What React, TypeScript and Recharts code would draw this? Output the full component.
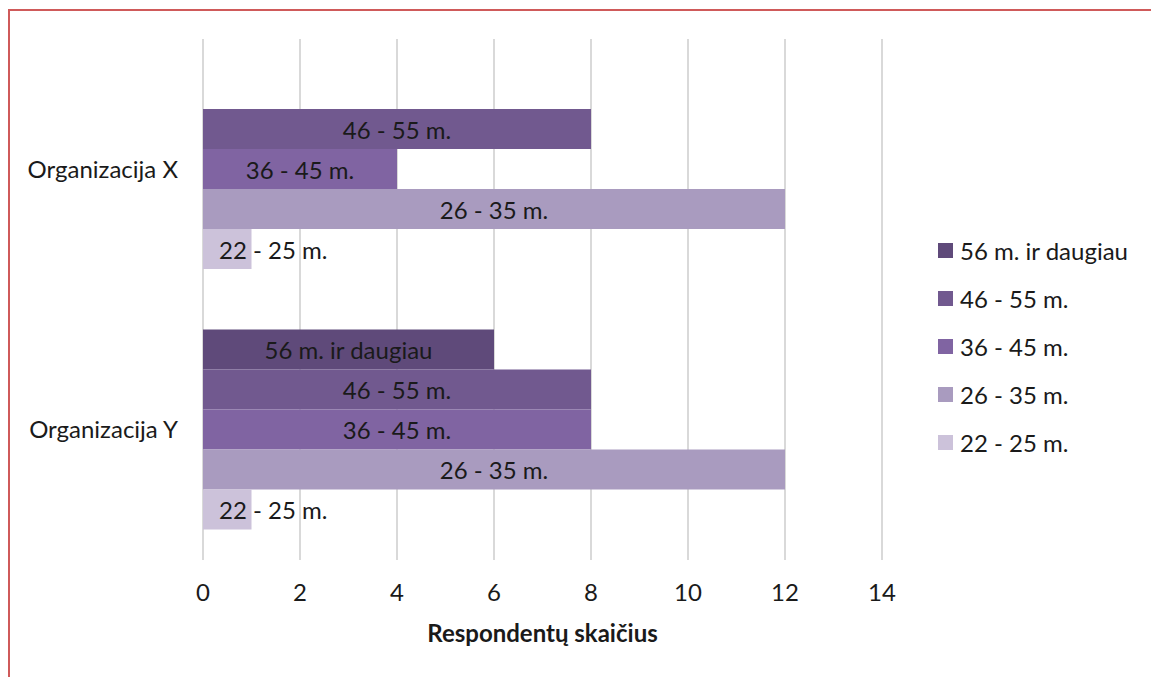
import React from 'react';
import { BarChart, Bar, XAxis, YAxis, CartesianGrid, LabelList } from 'recharts';

const categories = ['Organizacija X', 'Organizacija Y'];
const seriesNames = ['56 m. ir daugiau', '46 - 55 m.', '36 - 45 m.', '26 - 35 m.', '22 - 25 m.'];
const seriesKeys = ['s56', 's46', 's36', 's26', 's22'];
const s56 = [0, 6];
const s46 = [8, 8];
const s36 = [4, 8];
const s26 = [12, 12];
const s22 = [1, 1];
const xTicks = [0, 2, 4, 6, 8, 10, 12, 14];
const colors = ['#5f4a7a', '#71598f', '#8064a2', '#a99bbf', '#ccc2da'];

const seriesValues = [s56, s46, s36, s26, s22];
const data = categories.map((c, i) => {
  const row: any = { name: c };
  seriesKeys.forEach((k, j) => {
    row[k] = seriesValues[j][i];
  });
  return row;
});

const FONT = 'Lato, "Open Sans", sans-serif';
const FS = 24;

const makeLabel = (text: string) => (props: any) => {
  const { x, y, width, height, value } = props;
  if (!value) return null;
  const narrow = width < 120;
  return (
    <text
      x={narrow ? x + 16 : x + width / 2}
      y={y + height / 2}
      textAnchor={narrow ? 'start' : 'middle'}
      dominantBaseline="central"
      fill="#1a1a1a"
      fontSize={FS}
      fontFamily={FONT}
    >
      {text}
    </text>
  );
};

export default function App() {
  return (
    <div style={{ position: 'absolute', left: 0, top: 0, width: 1151, height: 677, background: '#fff', overflow: 'hidden', fontFamily: FONT }}>
      <div style={{ position: 'absolute', left: 8, top: 9, width: 1200, height: 720, borderTop: '2px solid #cf5a5a', borderLeft: '2px solid #cf5a5a' }} />
      <div style={{ position: 'absolute', left: 0, top: 0 }}>
        <BarChart
          width={1151}
          height={677}
          data={data}
          layout="vertical"
          margin={{ top: 39, right: 269, bottom: 33, left: 8 }}
          barSize={40}
          barGap={0}
        >
          <CartesianGrid horizontal={false} vertical={true} stroke="#d9d9d9" strokeWidth={2} />
          <XAxis
            type="number"
            domain={[0, 14]}
            ticks={xTicks}
            axisLine={false}
            tickLine={false}
            tickMargin={18}
            height={84}
            tick={{ fontSize: FS, fill: '#1a1a1a', fontFamily: FONT }}
            label={{ value: 'Respondentų skaičius', position: 'insideBottom', offset: 2, style: { fontSize: FS, fontWeight: 700, fill: '#1a1a1a', fontFamily: FONT } }}
          />
          <YAxis
            type="category"
            dataKey="name"
            width={195}
            axisLine={false}
            tickLine={false}
            tickMargin={19}
            tick={{ fontSize: FS, fill: '#1a1a1a', fontFamily: FONT }}
          />
          {seriesKeys.map((k, i) => (
            <Bar key={k} dataKey={k} name={seriesNames[i]} fill={colors[i]} isAnimationActive={false}>
              <LabelList dataKey={k} content={makeLabel(seriesNames[i])} />
            </Bar>
          ))}
        </BarChart>
      </div>
      <div style={{ position: 'absolute', left: 938, top: 226 }}>
        {seriesNames.map((n, i) => (
          <div key={n} style={{ display: 'flex', alignItems: 'center', height: 48, fontSize: FS, color: '#1a1a1a', whiteSpace: 'nowrap' }}>
            <div style={{ width: 15, height: 15, background: colors[i], marginRight: 7, flexShrink: 0 }} />
            <span>{n}</span>
          </div>
        ))}
      </div>
    </div>
  );
}
